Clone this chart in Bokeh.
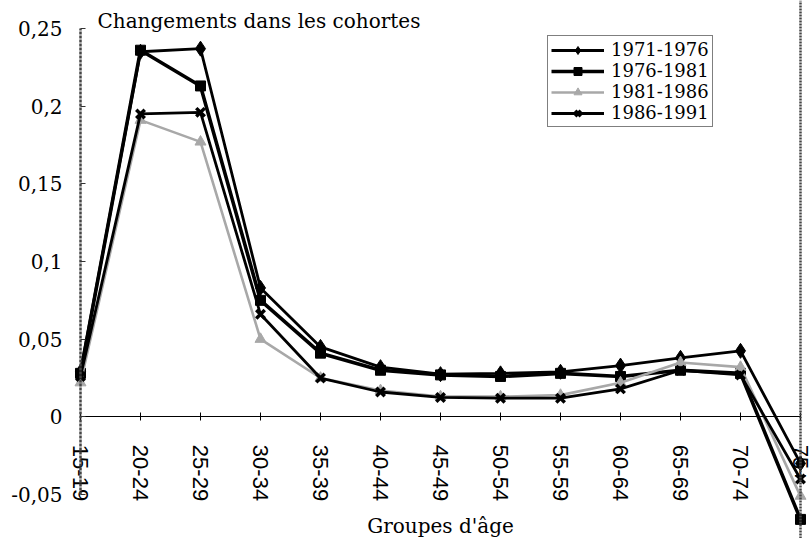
from bokeh.plotting import figure
from bokeh.models import (Range1d, FixedTicker, CustomJSTickFormatter,
                          LinearAxis, Legend, LegendItem, Label)
from bokeh.embed import file_html
from bokeh.resources import INLINE

# ---- data -------------------------------------------------------------
age_groups = ["15-19", "20-24", "25-29", "30-34", "35-39", "40-44", "45-49",
              "50-54", "55-59", "60-64", "65-69", "70-74", "75+"]
series_names = ["1971-1976", "1976-1981", "1981-1986", "1986-1991"]
v_1971_1976 = [0.029, 0.235, 0.237, 0.083, 0.045, 0.032, 0.0275, 0.028, 0.029, 0.033, 0.038, 0.0425, -0.030]
v_1976_1981 = [0.028, 0.236, 0.213, 0.075, 0.041, 0.030, 0.027, 0.026, 0.028, 0.026, 0.030, 0.028, -0.066]
v_1981_1986 = [0.022, 0.191, 0.177, 0.050, 0.025, 0.017, 0.013, 0.013, 0.014, 0.022, 0.035, 0.032, -0.051]
v_1986_1991 = [0.026, 0.195, 0.196, 0.066, 0.025, 0.016, 0.0125, 0.012, 0.012, 0.018, 0.030, 0.027, -0.040]
y_ticks = [-0.05, 0, 0.05, 0.1, 0.15, 0.2, 0.25]
y_axis_min, y_axis_max = -0.05, 0.25

title_text = "Changements dans les cohortes"
x_title = "Groupes d'âge"

SERIF = "DejaVu Serif"

# category positions along the axis (index of each age group)
x_pos = list(range(len(age_groups)))

# frame spans the whole canvas; the axes are pinned inside it
p = figure(width=809, height=538,
           x_range=Range1d(x_pos[0] - 80 / 60, x_pos[-1] + 9 / 60),
           y_range=Range1d(-0.0783, 0.268),
           output_backend="svg", toolbar_location=None,
           min_border_left=0, min_border_right=0,
           min_border_top=0, min_border_bottom=0)

p.background_fill_color = "white"
p.border_fill_color = "white"
p.outline_line_color = None
p.xgrid.grid_line_color = None
p.ygrid.grid_line_color = None
p.title.text = ""
p.title.visible = False

# title placed just above the top of the value axis
p.add_layout(Label(x=x_pos[0], y=y_axis_max, x_offset=17, y_offset=7,
                   text=title_text, text_font=SERIF, text_font_size="20px",
                   text_color="black", text_baseline="alphabetic",
                   text_align="left"))

# y axis pinned at the first age group
p.yaxis.fixed_location = x_pos[0]
p.yaxis.bounds = (y_axis_min, y_axis_max)
p.yaxis.ticker = FixedTicker(ticks=y_ticks)
p.yaxis.formatter = CustomJSTickFormatter(code="""
    let s = tick.toFixed(2);
    s = s.replace(/0+$/, '').replace(/\\.$/, '');
    if (s === '-0') s = '0';
    return s.replace('.', ',');
""")
p.yaxis.major_label_text_font = SERIF
p.yaxis.major_label_text_font_size = "20px"
p.yaxis.major_label_text_color = "black"
p.yaxis.major_label_standoff = 18
p.yaxis.major_tick_in = 5
p.yaxis.major_tick_out = 0
p.yaxis.minor_tick_line_color = None
p.yaxis.major_tick_line_color = "#333333"
p.yaxis.axis_line_color = "#444444"
p.yaxis.axis_line_width = 2.5
p.yaxis.axis_line_dash = "3 1"

# x axis drawn along y = 0
p.xaxis.fixed_location = 0
p.xaxis.bounds = (x_pos[0], x_pos[-1])
p.xaxis.ticker = FixedTicker(ticks=x_pos)
p.xaxis.major_label_overrides = {i: g for i, g in zip(x_pos, age_groups)}
p.xaxis.minor_tick_line_color = None
p.xaxis.major_label_orientation = "vertical"
p.xaxis.major_label_text_font = "Liberation Sans"
p.xaxis.major_label_text_font_size = "22px"
p.xaxis.major_label_text_color = "black"
p.xaxis.major_label_standoff = 24
p.xaxis.major_tick_in = 4
p.xaxis.major_tick_out = 4
p.xaxis.major_tick_line_color = "black"
p.xaxis.axis_line_color = "black"
p.xaxis.axis_line_width = 1.2
p.xaxis.axis_label = x_title
p.xaxis.axis_label_text_font = SERIF
p.xaxis.axis_label_text_font_size = "20px"
p.xaxis.axis_label_text_font_style = "normal"
p.xaxis.axis_label_text_color = "black"
p.xaxis.axis_label_standoff = 10

# right border line at the last age group
r_axis = LinearAxis(fixed_location=x_pos[-1],
                    ticker=FixedTicker(ticks=[]), major_tick_in=0, major_tick_out=0,
                    minor_tick_in=0, minor_tick_out=0,
                    major_label_text_font_size="0px", major_label_standoff=0,
                    axis_line_color="#444444", axis_line_width=2.5,
                    axis_line_dash="2 1")
p.add_layout(r_axis, "right")

# ---- series -----------------------------------------------------------
all_values = [v_1971_1976, v_1976_1981, v_1981_1986, v_1986_1991]
styles = [
    dict(color="black", lw=2.8, marker="diamond", size=15, mlw=1),
    dict(color="black", lw=3.6, marker="square", size=10, mlw=1),
    dict(color="#a8a8a8", lw=2.6, marker="triangle", size=11, mlw=1),
    dict(color="black", lw=2.8, marker="x", size=12, mlw=3.5),
]

items = []
for name, vals, st in zip(series_names, all_values, styles):
    rl = p.line(x_pos, vals, line_color=st["color"], line_width=st["lw"])
    rs = p.scatter(x_pos, vals, marker=st["marker"], size=st["size"],
                   fill_color=st["color"], line_color=st["color"],
                   line_width=st["mlw"])
    items.append(LegendItem(label=name, renderers=[rl, rs]))

legend = Legend(items=items, location=(547, 411),
                border_line_color="black", border_line_width=1.5,
                background_fill_color="white", background_fill_alpha=1,
                label_text_font=SERIF, label_text_font_size="18px",
                label_text_color="black",
                glyph_width=53, glyph_height=20, label_height=20,
                spacing=0, padding=3, label_standoff=7, margin=0)
p.add_layout(legend)

open("out.html", "w").write(file_html(p, INLINE))
